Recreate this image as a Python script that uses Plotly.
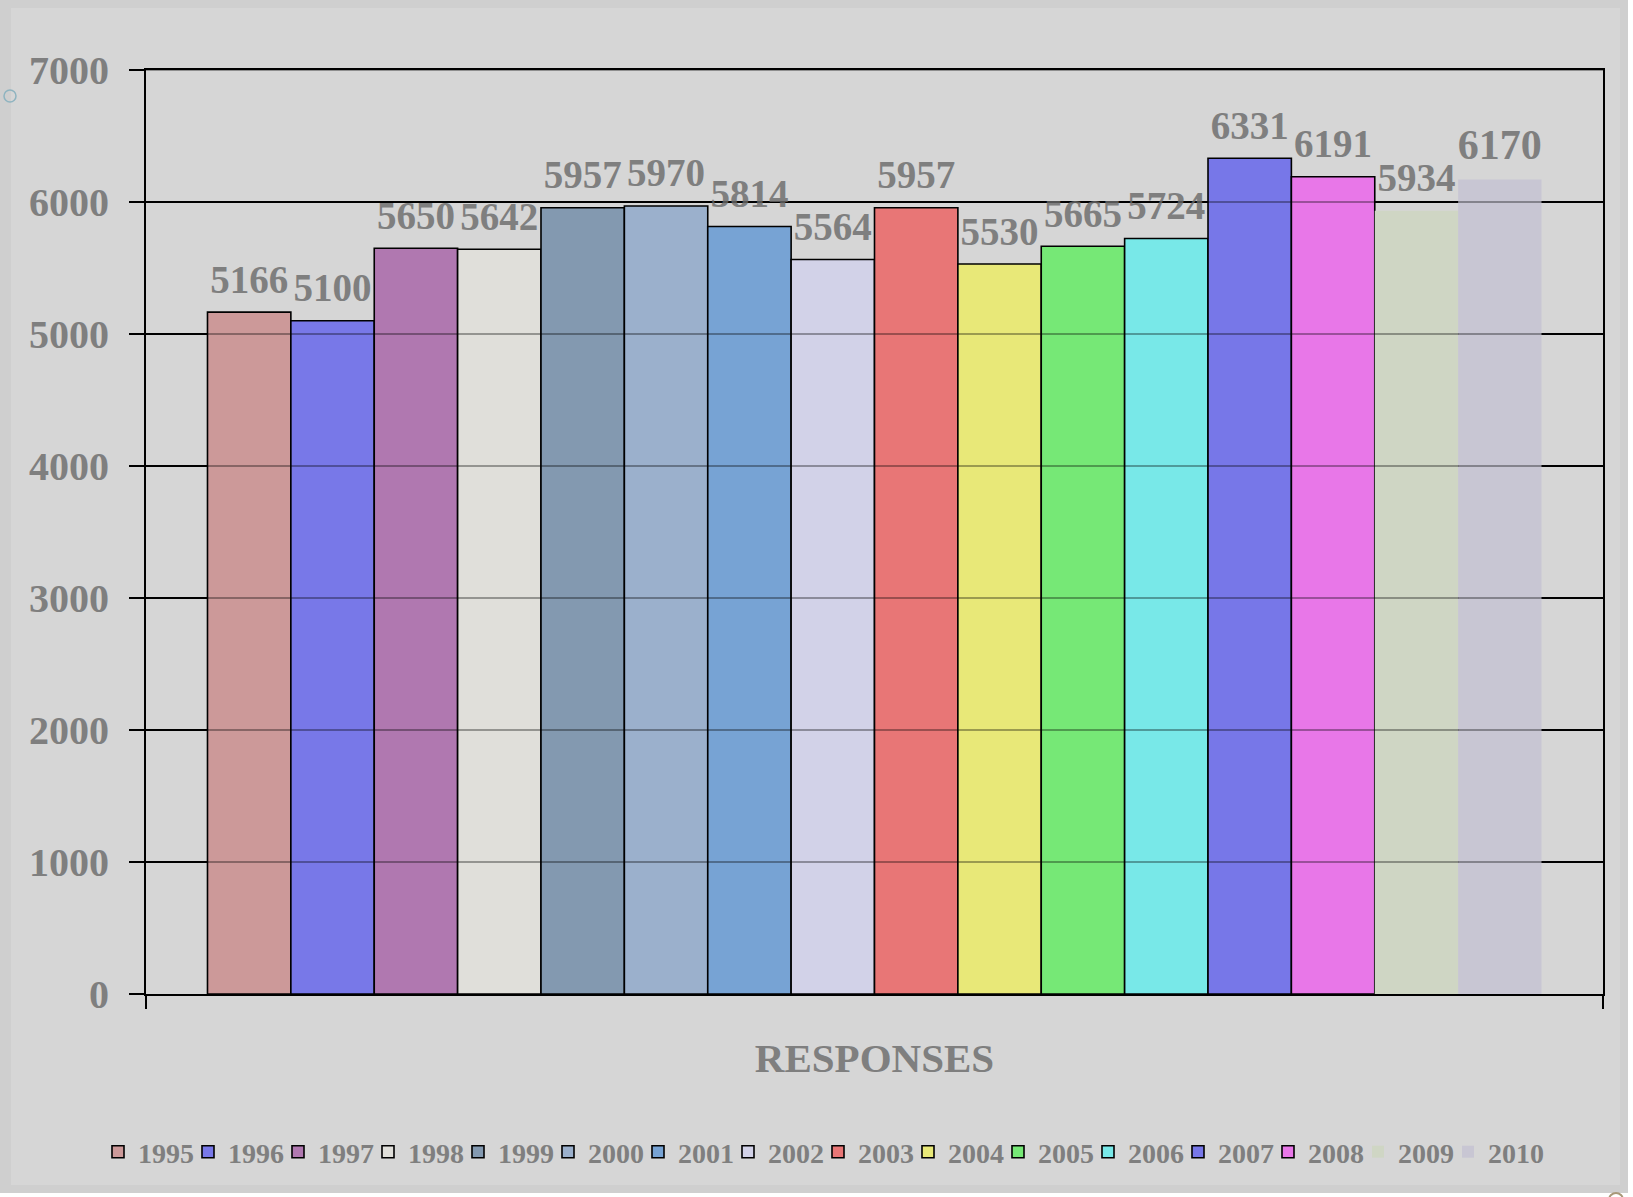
import plotly.graph_objects as go

years = ["1995", "1996", "1997", "1998", "1999", "2000", "2001", "2002",
         "2003", "2004", "2005", "2006", "2007", "2008", "2009", "2010"]
values = [5166, 5100, 5650, 5642, 5957, 5970, 5814, 5564,
          5957, 5530, 5665, 5724, 6331, 6191, 5934, 6170]
colors = ["#cc9999", "#7878e8", "#b078b0", "#e0dfda", "#8399b0", "#9bb0cc",
          "#77a3d4", "#d2d2e8", "#e87676", "#e8e878", "#76e876", "#78e8e8",
          "#7777e8", "#e877e8", "#cfd6c4", "#c8c6d3"]
outlined = [True] * 14 + [False, False]
label_sizes = [39] * 15 + [42]
category = ["RESPONSES"]
y_ticks = [0, 1000, 2000, 3000, 4000, 5000, 6000, 7000]

GRAY = "#7f7f7f"
FONT = "Liberation Serif"

# page layout (pixels) -> plot area
L, T, R, B = 146, 70, 1603, 994
W, H = R - L, B - T


def px(x):
    return (x - L) / W


def py(y):
    return (B - y) / H


n = len(years)
fig = go.Figure()
for i, (yr, v, c, ol) in enumerate(zip(years, values, colors, outlined)):
    fig.add_trace(go.Bar(
        name=yr, x=category, y=[v],
        marker=dict(color=c, line=dict(color="black", width=1.6 if ol else 0)),
        legendwidth=62 if i == n - 1 else None,
        hoverinfo="skip",
    ))
# value labels (grouped like the bars)
for yr, v, ls in zip(years, values, label_sizes):
    fig.add_trace(go.Scatter(
        name=yr + " label", x=category, y=[v], mode="markers+text",
        text=[str(v)], textposition="top center", cliponaxis=False,
        marker=dict(size=14, color="rgba(0,0,0,0)"),
        textfont=dict(family=FONT, size=ls, color=GRAY, weight="bold"),
        showlegend=False, hoverinfo="skip",
    ))

# grid lines drawn over the bars (semi-transparent)
for t in y_ticks[1:]:
    fig.add_shape(type="line", xref="paper", yref="y", x0=0, x1=1, y0=t, y1=t,
                  line=dict(color="rgba(0,0,0,0.45)", width=1.5), layer="above")

# outer frame decoration
fig.add_shape(type="rect", xref="paper", yref="paper",
              x0=px(0), x1=px(1628), y0=py(0), y1=py(1193),
              fillcolor="#cfcfcf", line=dict(width=0), layer="below")
fig.add_shape(type="rect", xref="paper", yref="paper",
              x0=px(11), x1=px(1620), y0=py(8), y1=py(1185),
              fillcolor="#d6d6d6", line=dict(width=0), layer="below")
fig.add_shape(type="circle", xref="paper", yref="paper",
              x0=px(4), x1=px(16), y0=py(90), y1=py(102),
              line=dict(color="#8fb4c0", width=1.5), layer="above")
fig.add_shape(type="circle", xref="paper", yref="paper",
              x0=px(1609), x1=px(1623), y0=py(1193), y1=py(1207),
              line=dict(color="#a89878", width=2), layer="above")

fig.update_layout(
    width=1633, height=1197,
    paper_bgcolor="white", plot_bgcolor="rgba(0,0,0,0)",
    margin=dict(l=L, r=1633 - R, t=T, b=1197 - B),
    barmode="group", bargap=0.0844, bargroupgap=0,
    scattermode="group", scattergap=0.0844,
    showlegend=True,
    legend=dict(orientation="h", xref="paper", x=px(98), xanchor="left",
                yref="paper", y=py(1152), yanchor="middle",
                entrywidth=45, itemwidth=30, bgcolor="rgba(0,0,0,0)",
                font=dict(family=FONT, size=28, color=GRAY, weight="bold"),
                tracegroupgap=0),
    font=dict(family=FONT),
)
fig.update_xaxes(
    type="category", range=[-0.5, 0.5], tickson="boundaries",
    ticks="outside", ticklen=13, tickwidth=2, tickcolor="black",
    showticklabels=False, showgrid=False, zeroline=False,
    showline=True, linecolor="black", linewidth=2, mirror=True,
    title=dict(text="RESPONSES", standoff=48,
               font=dict(family=FONT, size=41, color=GRAY, weight="bold")),
)
fig.update_yaxes(
    range=[0, 7000], tickvals=y_ticks, ticktext=[str(t) for t in y_ticks],
    ticks="outside", ticklen=15, tickwidth=2, tickcolor="black",
    ticklabelstandoff=12,
    tickfont=dict(family=FONT, size=40, color=GRAY, weight="bold"),
    showgrid=True, gridcolor="black", gridwidth=1.5, zeroline=False,
    showline=True, linecolor="black", linewidth=2, mirror=True,
)

fig.write_html("out.html", config={"displayModeBar": False},
               post_script="document.body.style.margin='0';"
                           "document.body.style.background='white';")
